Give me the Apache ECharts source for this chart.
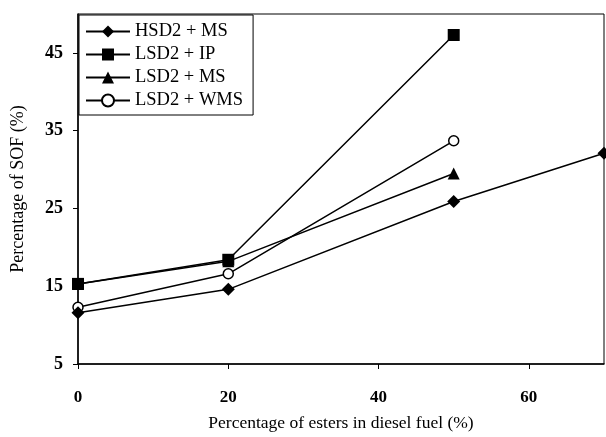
<!DOCTYPE html>
<html>
<head>
<meta charset="utf-8">
<script src="https://cdn.jsdelivr.net/npm/echarts@6/dist/echarts.min.js"></script>
<style>
  html, body { margin: 0; padding: 0; background: #fff; }
  #main { width: 606px; height: 437px; }
</style>
</head>
<body>
<div id="main"></div>
<script>
// data
var esterPct = [0, 20, 50, 70];
var hsd2Ms = [11.6, 14.6, 25.9, 32.1];
var lsd2Ip = [15.3, 18.4, 47.3];
var lsd2Ms = [15.3, 18.2, 29.5];
var lsd2Wms = [12.3, 16.6, 33.7];

function pairs(ys) {
    return ys.map(function (y, i) { return [esterPct[i], y]; });
}

function makeSeries(name, ys, symbol, size, filled) {
    return {
        name: name,
        type: 'line',
        data: pairs(ys),
        symbol: symbol,
        symbolSize: size,
        showSymbol: true,
        lineStyle: { color: '#000', width: 1.5 },
        itemStyle: { color: filled ? '#000' : '#fff', borderColor: '#000', borderWidth: filled ? 0 : 1.5 },
        z: filled ? 3 : 2
    };
}

var chartDom = document.getElementById('main');
var myChart = echarts.init(chartDom);
var font = '"Liberation Serif", "Times New Roman", serif';
var option = {
    animation: false,
    textStyle: { fontFamily: font, color: '#000' },
    grid: {
        left: 78, right: 2, top: 14, bottom: 70,
        show: true, borderColor: '#000', borderWidth: 1
    },
    legend: {
        orient: 'vertical',
        left: 79, top: 15,
        backgroundColor: '#fff',
        borderColor: '#000', borderWidth: 1,
        padding: [7, 10, 5, 6],
        itemWidth: 44, itemHeight: 15, itemGap: 4,
        textStyle: { fontFamily: font, fontSize: 18.5, color: '#000' },
        data: ['HSD2 + MS', 'LSD2 + IP', 'LSD2 + MS', 'LSD2 + WMS']
    },
    xAxis: {
        type: 'value',
        min: 0, max: 70, interval: 20,
        name: 'Percentage of esters in diesel fuel (%)',
        nameLocation: 'middle', nameGap: 50,
        nameTextStyle: { fontFamily: font, fontSize: 17.5, color: '#000' },
        axisLine: { lineStyle: { color: '#000', width: 1.5 } },
        axisTick: { inside: false, length: 5, lineStyle: { color: '#000' } },
        axisLabel: { showMaxLabel: false, margin: 25, fontFamily: font, fontSize: 17, fontWeight: 'bold', color: '#000' },
        splitLine: { show: false }
    },
    yAxis: {
        type: 'value',
        min: 5, max: 50, interval: 10,
        name: 'Percentage of SOF (%)',
        nameLocation: 'middle', nameGap: 51,
        nameTextStyle: { fontFamily: font, fontSize: 18, color: '#000' },
        axisLine: { show: true, lineStyle: { color: '#000', width: 1.5 } },
        axisTick: { show: true, length: 5, lineStyle: { color: '#000' } },
        axisLabel: { showMaxLabel: false, margin: 15, fontFamily: font, fontSize: 18, fontWeight: 'bold', color: '#000' },
        splitLine: { show: false }
    },
    series: [
        makeSeries('HSD2 + MS', hsd2Ms, 'diamond', 13, true),
        makeSeries('LSD2 + IP', lsd2Ip, 'rect', 12, true),
        makeSeries('LSD2 + MS', lsd2Ms, 'triangle', 12, true),
        makeSeries('LSD2 + WMS', lsd2Wms, 'circle', 10, false)
    ]
};
myChart.setOption(option);
</script>
</body>
</html>
